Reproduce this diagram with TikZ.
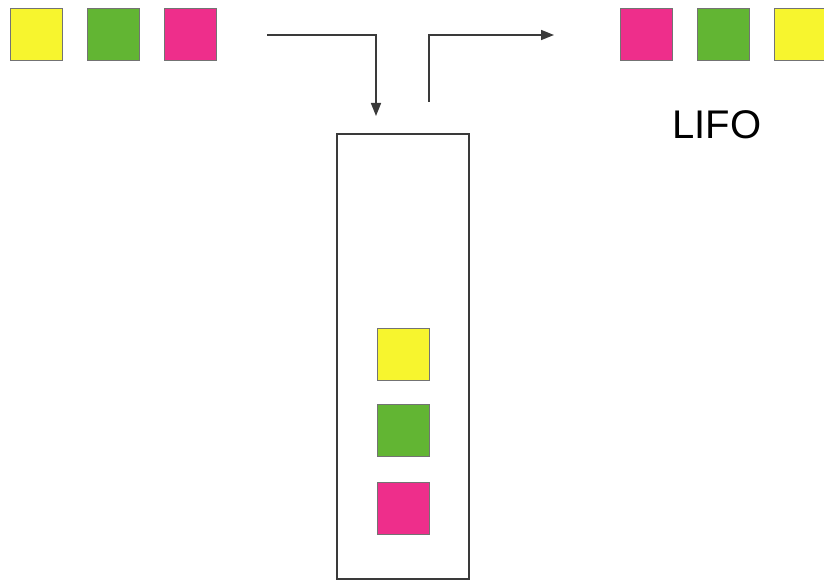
\documentclass[tikz,border=0pt]{standalone}
\usepackage{fontspec}
\setmainfont{Liberation Sans}
\usetikzlibrary{arrows.meta}
\definecolor{blkyellow}{HTML}{F7F52E}
\definecolor{blkgreen}{HTML}{62B533}
\definecolor{blkpink}{HTML}{EE2E8B}
\definecolor{linegrey}{HTML}{3A3A3A}

\begin{document}
\begin{tikzpicture}[x=1pt,y=-1pt,
		blk/.style={draw=black!55, line width=1pt, minimum size=52pt, inner sep=0pt},
		flow/.style={draw=linegrey, line width=1.7pt, -{Triangle[length=13pt,width=10pt]}}]
			\useasboundingbox (0,0) rectangle (824,580);
			% blocks going in
			\node [blk, fill=blkyellow] (in1) at (36,34.5) {};
			\node [blk, fill=blkgreen] (in2) at (113,34.5) {};
			\node [blk, fill=blkpink] (in3) at (190,34.5) {};
			% blocks coming out
			\node [blk, fill=blkpink] (out1) at (646.5,34.5) {};
			\node [blk, fill=blkgreen] (out2) at (723,34.5) {};
			\node [blk, fill=blkyellow] (out3) at (800,34.5) {};
			\node (lifo) at (717,125) {\fontsize{40}{48}\selectfont LIFO};
			% the stack
			\node [draw=linegrey, line width=1.7pt, minimum width=132pt, minimum height=445pt] (stack) at (403,356.5) {};
			\node [blk, fill=blkyellow] (s1) at (403,354) {};
			\node [blk, fill=blkgreen] (s2) at (403,430.5) {};
			\node [blk, fill=blkpink] (s3) at (403,508.5) {};
			% push and pop
			\coordinate (pushA) at (267,35);
			\coordinate (pushB) at (376,116);
			\coordinate (popA) at (429,102);
			\coordinate (popB) at (554,35);
			\draw [flow] (pushA) -| (pushB);
			\draw [flow] (popA) |- (popB);
		\end{tikzpicture}
\end{document}
